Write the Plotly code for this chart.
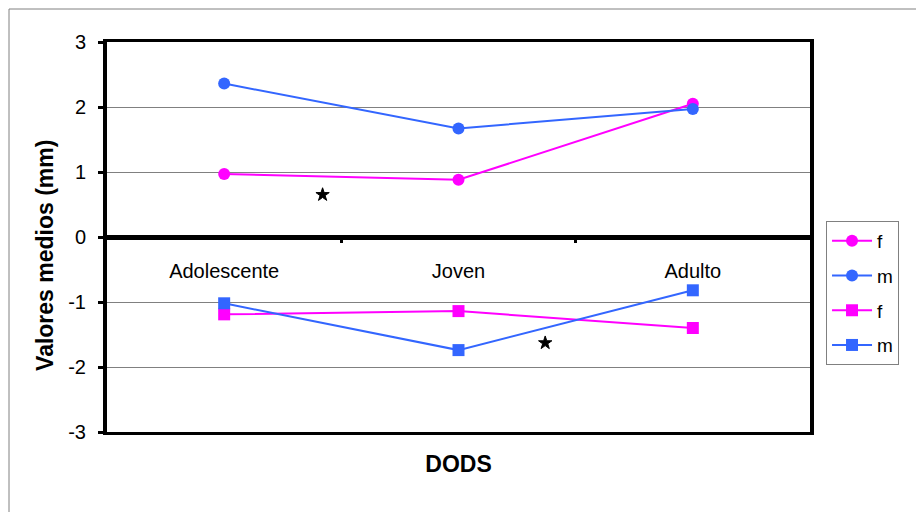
import plotly.graph_objects as go

categories = ["Adolescente", "Joven", "Adulto"]
cat_idx = [0, 1, 2]
f_circle = [0.97, 0.88, 2.05]
m_circle = [2.36, 1.67, 1.97]
f_square = [-1.19, -1.14, -1.40]
m_square = [-1.02, -1.74, -0.82]
star_x = [0.42, 1.37]
star_y = [0.65, -1.63]
y_ticks = [-3, -2, -1, 0, 1, 2, 3]
y_tick_text = ["-3", "-2", "-1", "0", "1", "2", "3"]
boundary_ticks = [0.5, 1.5]

MAG = "#FF00FF"
BLUE = "#3366FF"
FONT = "Liberation Sans, Arial, sans-serif"

fig = go.Figure()
specs = [
    ("f", f_circle, MAG, "circle", 12),
    ("m", m_circle, BLUE, "circle", 12),
    ("f", f_square, MAG, "square", 12),
    ("m", m_square, BLUE, "square", 12),
]
for i, (name, vals, col, sym, sz) in enumerate(specs):
    fig.add_trace(go.Scatter(
        x=cat_idx, y=vals, name=name, mode="lines+markers",
        line=dict(color=col, width=2),
        marker=dict(color=col, symbol=sym, size=sz),
        legendgroup=f"g{i}",
    ))

fig.add_trace(go.Scatter(
    x=star_x, y=star_y, mode="markers", showlegend=False,
    marker=dict(symbol="star", size=10, color="black", line=dict(color="black", width=1)),
))

fig.update_layout(
    width=916, height=504,
    margin=dict(l=99, r=114, t=34, b=80, autoexpand=False),
    paper_bgcolor="white", plot_bgcolor="white",
    font=dict(family=FONT, size=20, color="black"),
    showlegend=True,
    legend=dict(
        x=1.0228, y=0.541, xanchor="left", yanchor="top",
        bordercolor="#808080", borderwidth=1,
        font=dict(size=19), tracegroupgap=7,
        itemwidth=40,
    ),
    xaxis=dict(
        range=[-0.5, 2.5], showticklabels=False, ticks="",
        showgrid=False, zeroline=False,
        showline=True, mirror=True, linecolor="black", linewidth=3,
        title=dict(text="<b>DODS</b>", font=dict(size=23), standoff=22),
    ),
    xaxis2=dict(
        overlaying="x", anchor="free", position=0.5, range=[-0.5, 2.5],
        tickmode="array", tickvals=boundary_ticks, ticktext=["", ""],
        ticks="outside", ticklen=5, tickwidth=3, tickcolor="black",
        showgrid=False, zeroline=False, showline=False,
    ),
    xaxis3=dict(
        overlaying="x", anchor="free", position=0.5, range=[-0.5, 2.5],
        tickmode="array", tickvals=cat_idx, ticktext=categories,
        ticks="", ticklabelstandoff=20,
        showgrid=False, zeroline=False, showline=False,
        tickfont=dict(size=20),
    ),
    yaxis=dict(
        range=[-3, 3], tickmode="array", tickvals=y_ticks, ticktext=y_tick_text,
        ticks="outside", ticklen=5, tickwidth=3, tickcolor="black",
        showgrid=True, gridcolor="#808080", gridwidth=1,
        zeroline=True, zerolinecolor="black", zerolinewidth=5,
        showline=True, mirror=True, linecolor="black", linewidth=4,
        ticklabelstandoff=8,
    ),
    annotations=[dict(
        text="<b>Valores medios (mm)</b>", textangle=-90,
        xref="paper", yref="paper", x=-0.0882, y=0.454,
        xanchor="center", yanchor="middle", showarrow=False,
        font=dict(size=23),
    )],
)

# invisible traces to activate the overlay axes
fig.add_trace(go.Scatter(x=[-0.5], y=[0], xaxis="x2", mode="markers",
                         marker=dict(opacity=0), showlegend=False, hoverinfo="skip"))
fig.add_trace(go.Scatter(x=[-0.5], y=[0], xaxis="x3", mode="markers",
                         marker=dict(opacity=0), showlegend=False, hoverinfo="skip"))

fig.add_shape(type="rect", xref="paper", yref="paper",
              x0=(1 - 99) / 703, x1=1.2, y0=-0.25, y1=(424 - 1) / 390,
              line=dict(color="#808080", width=1), layer="below")

fig.write_html("out.html")
